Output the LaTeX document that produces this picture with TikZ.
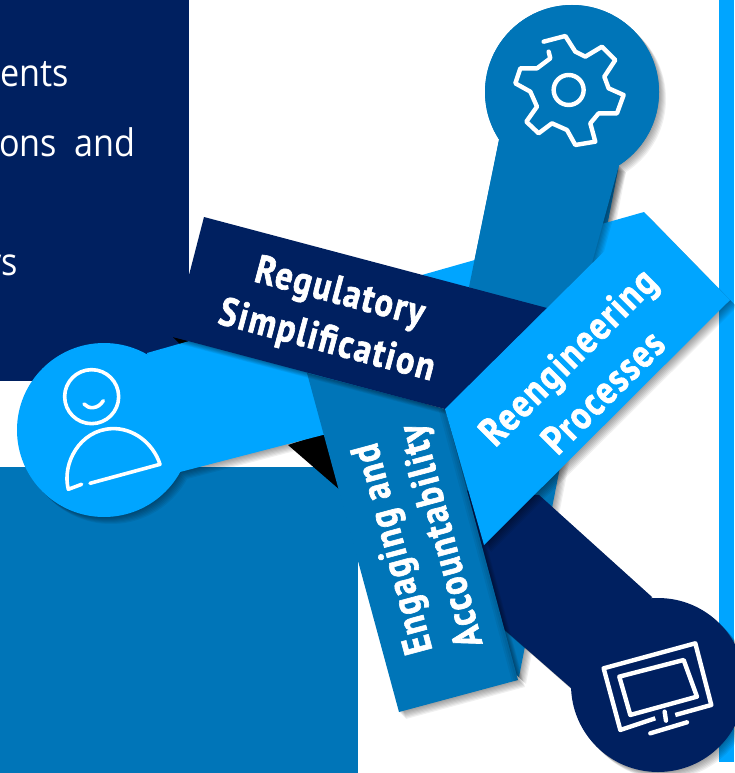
\documentclass[tikz,border=0pt]{standalone}
\usepackage{fontspec}
\setmainfont[FakeStretch=.9]{Open Sans}
\newfontfamily\bandfont[FakeStretch=.85,FakeBold=1.6,LetterSpace=4.5]{PT Sans Bold}
\definecolor{navy}{HTML}{002060}
\definecolor{midblue}{HTML}{0075B8}
\definecolor{brightblue}{HTML}{00A5FF}
\newcommand\shfill[2]{%
  \foreach \k in {1,2,3,4,5,6,7}{\fill[black,opacity=.06,shift={(\k,\k)}] #2;}
  \fill[#1] #2;}
\tikzset{
  bandtext/.style={text=white,inner sep=0pt,align=center,font=\bandfont\fontsize{40}{50}\selectfont},
  bodytext/.style={text=white,inner sep=0pt,anchor=base east,font=\fontsize{38}{44}\selectfont},
  icon/.style={draw=white,line width=4.4pt,line join=round,line cap=round}
}
\begin{document}
\begin{tikzpicture}[x=1pt,y=-1pt]
\useasboundingbox (0,0) rectangle (734,773);
\fill[white] (0,0) rectangle (734,773);
% panels
\fill[navy] (0,0) rectangle (189,381);
\fill[midblue] (0,467) rectangle (358,773);
\fill[brightblue] (719,0) rectangle (734,762);
\node[bodytext] (t1) at (69,87) {ents};
\node[bodytext] (t2) at (136,156) {ons\ \ and};
\node[bodytext] (t3) at (18,275) {ys};
% black slivers
\fill[black] (173,337) -- (192,342) -- (181,345) -- cycle;
\fill[black] (288,445) -- (325,433) -- (340,490) -- cycle;
% mid blue arm
\shfill{midblue}{(572,92) circle[radius=87pt] (499,140) -- (440,430) -- (500,660) -- (519,677) -- (619,165) -- cycle}
% bright arm over the lower part of the mid arm, which is then redrawn on top
\shfill{brightblue}{(104,430) circle[radius=87pt] (147,353) -- (180,472) -- (400,415) -- (600,330) -- (644,212) -- cycle}
\shfill{midblue}{(499,140) -- (469,287) -- (540,340) -- (590,270) -- (619,165) -- cycle}
\fill[midblue] (572,92) circle[radius=87pt];
% dark arm
\shfill{navy}{(658,685) circle[radius=87pt] (460,490) -- (490,617) -- (571,688) -- (652,597) -- (539,495) -- cycle}
% bands
\shfill{midblue}{(307,373) -- (399,712) -- (518,680) -- (445,409) -- cycle}
\foreach \w in {2,4,6}{\fill[black,opacity=.05] (445,409) -- (518,680) -- (518-\w,681.6) -- (445-\w,410.6) -- cycle;}
\shfill{navy}{(204,217) -- (173,337) -- (445,409) -- (547,308) -- cycle}
\shfill{brightblue}{(644,212) -- (445,409) -- (484,545) -- (730,300) -- cycle}
% labels
\node[bandtext,rotate=-15] (reg) at (333,318) {Regulatory\\Simplification};
\node[bandtext,rotate=105] (eng) at (419,542) {Engaging and\\Accountability};
\node[bandtext,rotate=45] (ree) at (585,374) {Reengineering\\Processes};
% gear icon
\begin{scope}[shift={(367,0)},x=.3333pt,y=-.3333pt]
\draw[icon] (530,125) -- (595,108) -- (625,155) -- (655,170) -- (705,140) -- (745,180) -- (712,230) -- (725,265) -- (770,285) -- (750,340) -- (695,340) -- (670,370) -- (685,425) -- (625,435) -- (600,390) -- (555,370) -- (515,400) -- (478,365) -- (510,320) -- (490,275) -- (445,250) -- (460,205) -- (510,205) -- (550,175) -- (545,155);
\draw[icon] (605,270) circle[radius=15pt];
\end{scope}
% person icon
\begin{scope}[shift={(0,330)},x=.3333pt,y=-.3333pt]
\draw[icon,line width=3.6pt] (275,200) circle[radius=27pt];
\draw[icon,line width=3.6pt] (252,222) .. controls (265,238) and (295,238) .. (310,212);
\draw[icon,line width=3.6pt] (245,463) -- (205,478) .. controls (185,400) and (240,300) .. (335,296) .. controls (400,293) and (460,340) .. (480,403) -- (270,460);
\end{scope}
% monitor icon
\begin{scope}[shift={(367,400)},x=.3333pt,y=-.3333pt]
\draw[icon,line cap=butt] (865,955) -- (760,990) -- (710,805) -- (985,730) -- (1033,915) -- (925,945);
\draw[icon] (757,830) -- (950,780) -- (990,890) -- (790,945) -- cycle;
\draw[icon] (893,935) -- (897,962);
\draw[icon] (850,1000) -- (960,967);
\end{scope}
\end{tikzpicture}
\end{document}
